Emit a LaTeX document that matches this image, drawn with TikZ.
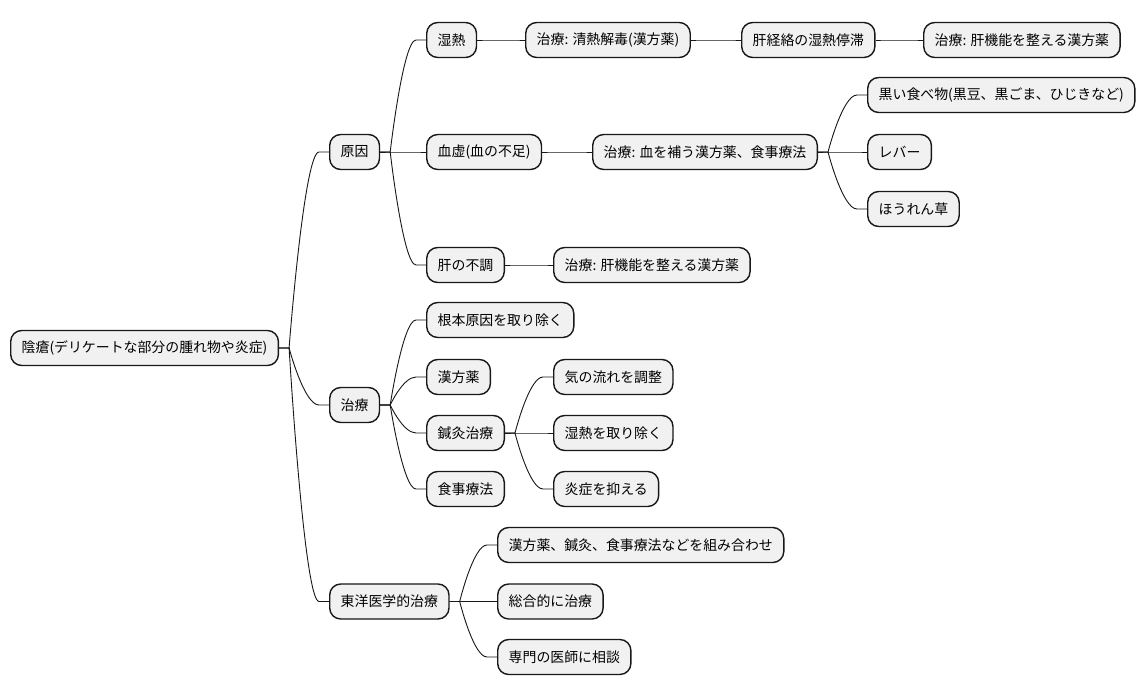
\documentclass[tikz,border=0pt]{standalone}
\usepackage{fontspec}
\newfontfamily\jp{Noto Sans CJK JP}
\usetikzlibrary{calc}
\definecolor{boxfill}{HTML}{F1F1F1}
\definecolor{ink}{HTML}{181818}
\tikzset{
  box/.style={draw=ink, line width=1.4pt, fill=boxfill, rounded corners=11pt,
    minimum height=35pt, inner xsep=11pt, inner ysep=0pt, anchor=west,
    font=\jp\fontsize{13.9}{16}\selectfont, text=black},
  br/.style={to path={let \p1=(\tikztostart), \p2=(\tikztotarget) in
    -- (\x1+10pt,\y1) .. controls (\x1+10pt,\y1) and ({0.5*(\x1+\x2)},\y2) .. (\x2-10pt,\y2) -- (\tikztotarget)}},
  conn/.style={draw=ink, line width=0.9pt}
}
\begin{document}
\begin{tikzpicture}[x=1pt,y=-1pt]
\useasboundingbox[fill=white] (0,0) rectangle (1146,696);
% level 0
\node[box] (root) at (10,348) {陰瘡(デリケートな部分の腫れ物や炎症)};
% level 1
\node[box] (gen) at (329,152) {原因};
\node[box] (tr) at (329,405) {治療};
\node[box] (east) at (329,601.5) {東洋医学的治療};
% causes
\node[box] (shitsu) at (426,40) {湿熱};
\node[box] (kekkyo) at (426,152) {血虚(血の不足)};
\node[box] (kan) at (426,265) {肝の不調};
\node[box] (shitsutr) at (525,40) {治療: 清熱解毒(漢方薬)};
\node[box] (keiraku) at (741,40) {肝経絡の湿熱停滞};
\node[box] (keirakutr) at (923,40) {治療: 肝機能を整える漢方薬};
\node[box] (kekkyotr) at (592,152) {治療: 血を補う漢方薬、食事療法};
\node[box] (kuro) at (867,95) {黒い食べ物(黒豆、黒ごま、ひじきなど)};
\node[box] (liver) at (867,152) {レバー};
\node[box] (spin) at (867,209) {ほうれん草};
\node[box] (kantr) at (553,265) {治療: 肝機能を整える漢方薬};
% treatment
\node[box] (root2) at (426,320) {根本原因を取り除く};
\node[box] (kanpo) at (426,377) {漢方薬};
\node[box] (shinkyu) at (426,433) {鍼灸治療};
\node[box] (shoku) at (426,489) {食事療法};
\node[box] (ki) at (553,377) {気の流れを調整};
\node[box] (shitsurm) at (553,433) {湿熱を取り除く};
\node[box] (ensho) at (553,489) {炎症を抑える};
% eastern
\node[box] (combo) at (497,545) {漢方薬、鍼灸、食事療法などを組み合わせ};
\node[box] (sogo) at (497,601.5) {総合的に治療};
\node[box] (ishi) at (497,657) {専門の医師に相談};
% connectors
\draw[conn] (root.east) to[br] (gen.west);
\draw[conn] (root.east) to[br] (tr.west);
\draw[conn] (root.east) to[br] (east.west);
\draw[conn] (gen.east) to[br] (shitsu.west);
\draw[conn] (gen.east) to[br] (kekkyo.west);
\draw[conn] (gen.east) to[br] (kan.west);
\draw[conn] (shitsu.east) to[br] (shitsutr.west);
\draw[conn] (shitsutr.east) to[br] (keiraku.west);
\draw[conn] (keiraku.east) to[br] (keirakutr.west);
\draw[conn] (kekkyo.east) to[br] (kekkyotr.west);
\draw[conn] (kekkyotr.east) to[br] (kuro.west);
\draw[conn] (kekkyotr.east) to[br] (liver.west);
\draw[conn] (kekkyotr.east) to[br] (spin.west);
\draw[conn] (kan.east) to[br] (kantr.west);
\draw[conn] (tr.east) to[br] (root2.west);
\draw[conn] (tr.east) to[br] (kanpo.west);
\draw[conn] (tr.east) to[br] (shinkyu.west);
\draw[conn] (tr.east) to[br] (shoku.west);
\draw[conn] (shinkyu.east) to[br] (ki.west);
\draw[conn] (shinkyu.east) to[br] (shitsurm.west);
\draw[conn] (shinkyu.east) to[br] (ensho.west);
\draw[conn] (east.east) to[br] (combo.west);
\draw[conn] (east.east) to[br] (sogo.west);
\draw[conn] (east.east) to[br] (ishi.west);
\end{tikzpicture}
\end{document}
